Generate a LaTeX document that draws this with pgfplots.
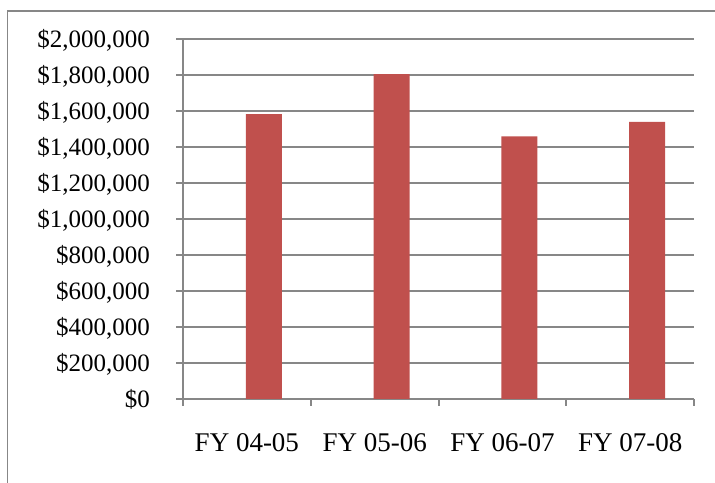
\documentclass[border=0pt]{standalone}
\usepackage{fontspec}
\setmainfont{Liberation Serif}
\usepackage{pgfplots}
\pgfplotsset{compat=1.18}
\definecolor{bar}{HTML}{C0504D}
\definecolor{gline}{HTML}{878787}
\begin{document}
\begin{tikzpicture}[x=1bp,y=1bp]
\useasboundingbox (0,0) rectangle (715,483);
\draw[gline, line width=1.5bp] (7.5,0) -- (7.5,472) -- (715,472);
\begin{axis}[
  at={(183bp,84bp)}, anchor=south west,
  scale only axis, width=511bp, height=360bp,
  xmin=-0.5, xmax=3.5, ymin=0, ymax=2000000,
  axis x line=bottom, axis y line=left,
  axis line style={-, gline, line width=2bp},
  ytick={0,200000,...,2000000},
  yticklabels={{\$0},{\$200,000},{\$400,000},{\$600,000},{\$800,000},{\$1,000,000},{\$1,200,000},{\$1,400,000},{\$1,600,000},{\$1,800,000},{\$2,000,000}},
  scaled y ticks=false,
  ymajorgrids, grid style={gline, line width=2bp},
  tick align=outside, major tick length=7bp,
  tick style={gline, line width=2bp},
  xtick={-0.5,0.5,1.5,2.5,3.5}, xticklabels={},
  extra x ticks={0,1,2,3},
  extra x tick labels={FY 04-05,FY 05-06,FY 06-07,FY 07-08},
  extra x tick style={major tick length=0bp, xticklabel style={font=\fontsize{27bp}{32bp}\selectfont, anchor=base, inner sep=0pt, yshift=-53bp}},
  yticklabel style={font=\fontsize{25bp}{30bp}\selectfont, anchor=base east, inner sep=0pt, xshift=-26bp, yshift=-9bp},
]
\addplot[ybar, bar width=36bp, bar shift=17bp, fill=bar, draw=none] coordinates {(0,1583000) (1,1805000) (2,1459000) (3,1539000)};
\end{axis}
\end{tikzpicture}
\end{document}
